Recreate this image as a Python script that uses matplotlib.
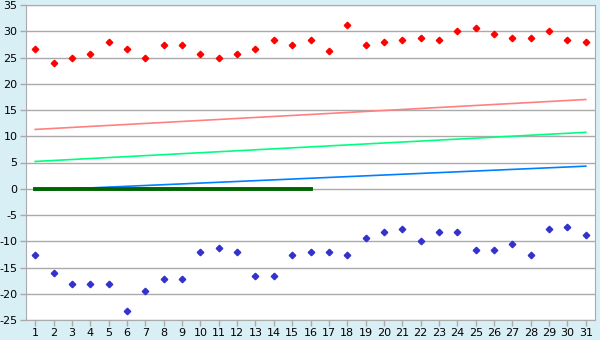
import matplotlib
matplotlib.use("Agg")
import matplotlib.pyplot as plt

days = list(range(1, 32))
red_vals = [26.7, 23.9, 25.0, 25.6, 27.9, 26.7, 25.0, 27.3, 27.3, 25.6,
            25.0, 25.6, 26.7, 28.3, 27.3, 28.3, 26.2, 31.1, 27.3, 27.9,
            28.3, 28.8, 28.3, 30.0, 30.6, 29.4, 28.8, 28.8, 30.0, 28.3, 27.9]
blue_vals = [-12.6, -16.1, -18.2, -18.2, -18.2, -23.3, -19.4, -17.2, -17.2, -12.1,
             -11.2, -12.1, -16.7, -16.7, -12.7, -12.1, -12.1, -12.7, -9.4, -8.3,
             -7.7, -10.0, -8.3, -8.3, -11.7, -11.7, -10.6, -12.7, -7.7, -7.2, -8.9]
trend_x = [1, 31]
pink_trend = [11.3, 17.0]
green_trend = [5.2, 10.75]
blue_trend = [-0.3, 4.3]
zero_x = list(range(1, 17))
zero_vals = [0] * 16
yticks = list(range(-25, 40, 5))

plt.rcParams['axes.unicode_minus'] = False
plt.rcParams['font.family'] = ['DejaVu Sans']

fig = plt.figure(figsize=(6, 3.4), dpi=100, facecolor='#d9eff6')
ax = fig.add_axes([26/600, 1 - 320/340, 569/600, 315/340])
ax.set_facecolor('white')

ax.plot(trend_x, pink_trend, color='#ff8080', lw=1.2, zorder=2)
ax.plot(trend_x, green_trend, color='#00ff80', lw=1.2, zorder=2)
ax.plot(trend_x, blue_trend, color='#0080ff', lw=1.2, zorder=2)
ax.plot(zero_x, zero_vals, color='#006400', lw=2.8, zorder=3)
ax.plot(days, red_vals, ls='none', marker='D', ms=3.3, color='#ff0000', zorder=4)
ax.plot(days, blue_vals, ls='none', marker='D', ms=3.3, color='#3333cc', zorder=4)

ax.set_xlim(0.5, 31.5)
ax.set_ylim(-25, 35)
ax.set_xticks(days)
ax.set_yticks(yticks)
ax.grid(axis='y', color='#aaaaaa', lw=1)
ax.set_axisbelow(True)
for s in ax.spines.values():
    s.set_color('#aaaaaa')
ax.tick_params(axis='both', colors='#aaaaaa', labelcolor='black', labelsize=8,
               length=4, width=1, pad=2)
plt.savefig('out.png', dpi=100, facecolor=fig.get_facecolor())
